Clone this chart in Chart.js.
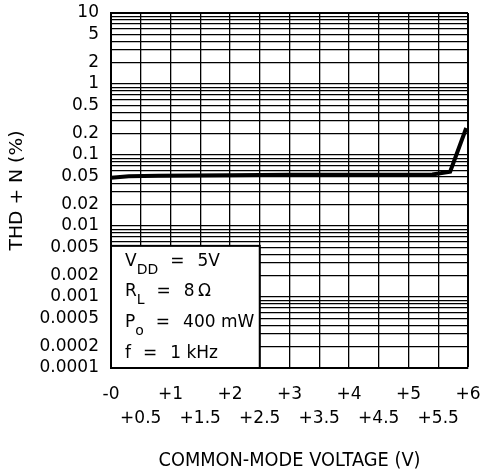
<!DOCTYPE html>
<html>
<head>
<meta charset="utf-8">
<script src="https://cdn.jsdelivr.net/npm/chart.js"></script>
<style>
  html, body { margin: 0; padding: 0; background: #fff; }
  #wrap { width: 480px; height: 474px; }
</style>
</head>
<body>
<div id="wrap"><canvas id="chartThd"></canvas></div>
<script>
// THD+N vs common-mode voltage
const cmVoltage = [0, 0.3, 0.8, 2, 3, 4, 5, 5.4, 5.7, 5.97];
const thdN = [0.048, 0.05, 0.051, 0.052, 0.0525, 0.0525, 0.0528, 0.053, 0.058, 0.24];

const xLabelsTop = ['-0', '+1', '+2', '+3', '+4', '+5', '+6'];
const xLabelsBottom = ['+0.5', '+1.5', '+2.5', '+3.5', '+4.5', '+5.5'];
const yLabels = ['0.0001', '0.0002', '0.0005', '0.001', '0.002', '0.005', '0.01', '0.02',
                 '0.05', '0.1', '0.2', '0.5', '1', '2', '5', '10'];
const yDecades = [0.0001, 0.001, 0.01, 0.1, 1];

const xTitle = 'COMMON-MODE VOLTAGE (V)';
const yTitle = 'THD + N (%)';

// test conditions box: [symbol, subscript, value]
const conditions = [
    ['V', 'DD', '5V'],
    ['R', 'L', '8\u2009Ω'],
    ['P', 'o', '400 mW'],
    ['f', '', '1 kHz']
];

const tickFont = { family: 'DejaVu Sans', size: 17, lineHeight: 1.45 };

function yLabelFor(value) {
    const hit = yLabels.find(l => Math.abs(Number(l) - value) / value < 1e-6);
    return hit || '';
}

function xLabelFor(value) {
    if (Math.abs(value - Math.round(value)) < 1e-6) {
        return [xLabelsTop[Math.round(value)] || '', ''];
    }
    return ['', xLabelsBottom[Math.floor(value)] || ''];
}

// squeeze text to a given length (the original uses a narrow plotter font)
function fitText(ctx, text, cx, cy, length, size, angle) {
    ctx.save();
    ctx.font = size + 'px "DejaVu Sans"';
    ctx.textAlign = 'center';
    ctx.textBaseline = 'middle';
    const w = ctx.measureText(text).width;
    ctx.translate(cx, cy);
    ctx.rotate(angle);
    ctx.scale(length / w, 1);
    ctx.fillText(text, 0, 0);
    ctx.restore();
}

const conditionBox = {
    id: 'conditionBox',
    afterDraw(chart) {
        const { ctx, chartArea, scales: { x, y } } = chart;
        const left = x.getPixelForValue(0);
        const right = x.getPixelForValue(2.5);
        const top = y.getPixelForValue(0.005) - 1.5;
        const bottom = y.getPixelForValue(0.0001);
        ctx.save();
        ctx.fillStyle = '#fff';
        ctx.fillRect(left, top, right - left, bottom - top);
        ctx.strokeStyle = '#000';
        ctx.lineWidth = 2;
        ctx.strokeRect(left, top, right - left, bottom - top);

        ctx.fillStyle = '#000';
        ctx.textBaseline = 'alphabetic';
        ctx.textAlign = 'left';
        conditions.forEach((c, i) => {
            const base = top + 20 + i * 30.6;
            let px = left + 14;
            ctx.font = '17px "DejaVu Sans"';
            ctx.fillText(c[0], px, base);
            px += ctx.measureText(c[0]).width;
            if (c[1]) {
                ctx.font = '14px "DejaVu Sans"';
                ctx.fillText(c[1], px, base + 8);
                px += ctx.measureText(c[1]).width;
            }
            px += 12;
            ctx.font = '17px "DejaVu Sans"';
            ctx.fillText('=', px, base);
            px += ctx.measureText('=').width + 13;
            ctx.fillText(c[2], px, base);
        });
        ctx.restore();

        // axis titles
        ctx.save();
        ctx.fillStyle = '#000';
        fitText(ctx, xTitle, (chartArea.left + chartArea.right) / 2, 461, 262, 19, 0);
        fitText(ctx, yTitle, 17.5, (chartArea.top + chartArea.bottom) / 2, 120, 18, -Math.PI / 2);
        ctx.restore();
    }
};

const chart = new Chart(document.getElementById('chartThd'), {
    type: 'line',
    data: {
        datasets: [{
            data: cmVoltage.map((v, i) => ({ x: v, y: thdN[i] })),
            borderColor: '#000',
            borderWidth: 4,
            pointRadius: 0,
            tension: 0,
            fill: false
        }]
    },
    options: {
        responsive: true,
        maintainAspectRatio: false,
        animation: false,
        layout: { padding: { top: 13, right: 12, bottom: 0, left: 0 } },
        plugins: {
            legend: { display: false },
            tooltip: { enabled: false }
        },
        scales: {
            x: {
                type: 'linear',
                min: 0,
                max: 6,
                afterFit: scale => {
                    scale.height = 106;
                    scale.paddingLeft = 0;
                    scale.paddingRight = 0;
                },
                ticks: {
                    stepSize: 0.5,
                    autoSkip: false,
                    maxRotation: 0,
                    padding: 14,
                    color: '#000',
                    font: tickFont,
                    callback: v => xLabelFor(v)
                },
                grid: {
                    color: '#000',
                    lineWidth: c => (c.tick && c.tick.value === 6 ? 2 : 1.3),
                    drawTicks: false
                },
                border: { display: true, color: '#000', width: 2 }
            },
            y: {
                type: 'logarithmic',
                min: 0.0001,
                max: 10,
                afterFit: scale => {
                    scale.width = 111;
                    scale.paddingTop = 0;
                    scale.paddingBottom = 0;
                },
                afterBuildTicks: scale => {
                    const ticks = [];
                    yDecades.forEach(d => {
                        for (let m = 1; m <= 9; m++) ticks.push({ value: d * m });
                    });
                    ticks.push({ value: 10 });
                    scale.ticks = ticks;
                },
                ticks: {
                    autoSkip: false,
                    padding: 12,
                    color: '#000',
                    font: { family: 'DejaVu Sans', size: 17 },
                    callback: v => yLabelFor(v)
                },
                grid: {
                    color: '#000',
                    lineWidth: c => (c.tick && Math.abs(c.tick.value - 10) < 1e-9 ? 2 : 1.3),
                    drawTicks: false
                },
                border: { display: true, color: '#000', width: 2 }
            }
        }
    },
    plugins: [conditionBox]
});
</script>
</body>
</html>
